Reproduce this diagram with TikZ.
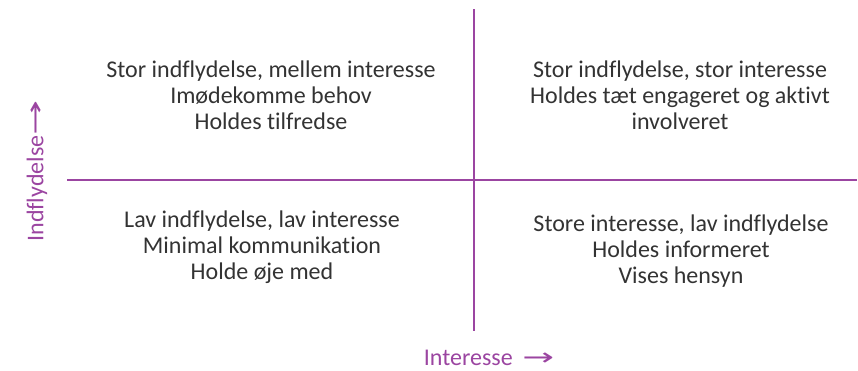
\documentclass[tikz,border=0pt]{standalone}
\usepackage{fontspec}
\setmainfont{Carlito}[Ligatures=NoCommon]
\newfontfamily\arrowfont{DejaVu Sans}
\newcommand{\axarrow}[1]{{\arrowfont\fontsize{20}{22}\selectfont\scalebox{#1}[1.2]{→}}}
\definecolor{axpurple}{HTML}{9B45A1}
\definecolor{txtgray}{HTML}{333333}
\begin{document}
\begin{tikzpicture}[x=1pt,y=-1pt,
  quad/.style={align=center,font=\fontsize{24}{26}\selectfont,text=txtgray,inner sep=0pt},
  axlabel/.style={text=axpurple,font=\fontsize{24}{26}\selectfont,inner sep=0pt},
  axline/.style={draw=axpurple,line width=2pt}]
\useasboundingbox (0,0) rectangle (858,370);
\coordinate (vt) at (474,9);
\coordinate (vb) at (474,331);
\coordinate (hl) at (67,180);
\coordinate (hr) at (857,180);
\draw[axline] (vt) -- (vb);
\draw[axline] (hl) -- (hr);
\node[quad] (tl) at (271,95) {Stor indflydelse, mellem interesse\\Imødekomme behov\\Holdes tilfredse};
\node[quad] (tr) at (680,95) {Stor indflydelse, stor interesse\\Holdes tæt engageret og aktivt\\involveret};
\node[quad] (bl) at (262,247) {Lav indflydelse, lav interesse\\Minimal kommunikation\\Holde øje med};
\node[quad] (br) at (681,251) {Store interesse, lav indflydelse\\Holdes informeret\\Vises hensyn};
\node[axlabel] (xl) at (489,358) {Interesse\hspace{0.4em}\axarrow{1.9}};
\node[axlabel,rotate=90] (yl) at (37,171) {Indflydelse\axarrow{2.1}};
\end{tikzpicture}
\end{document}
